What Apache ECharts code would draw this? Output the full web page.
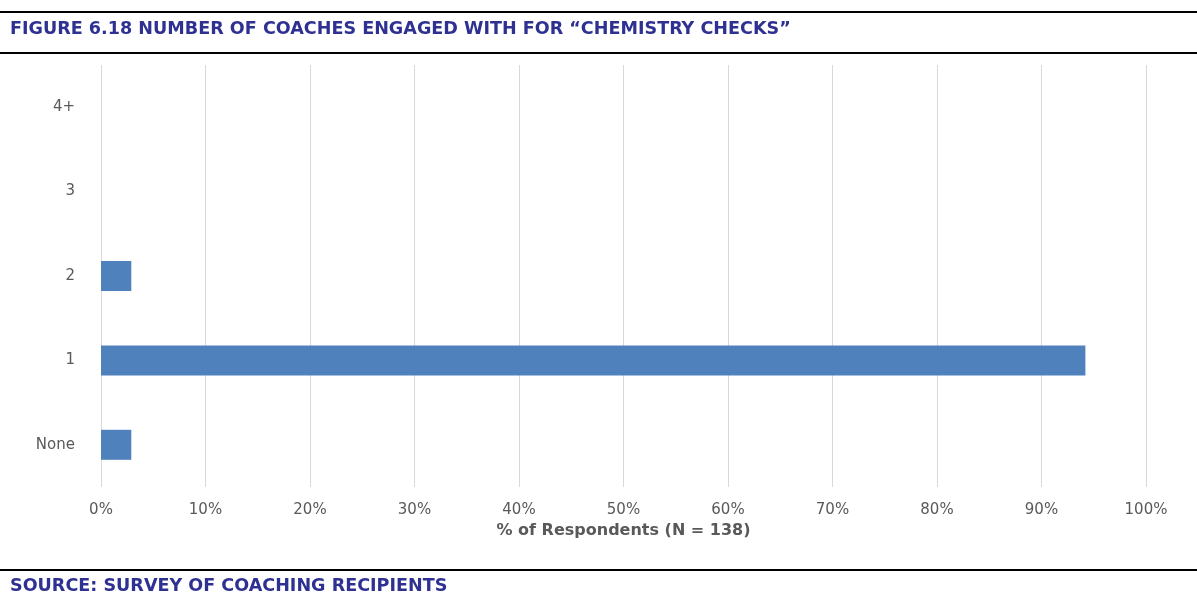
<!DOCTYPE html>
<html>
<head>
<meta charset="utf-8">
<script src="https://cdn.jsdelivr.net/npm/echarts@6/dist/echarts.min.js"></script>
<style>
  html, body { margin: 0; padding: 0; background: #fff; }
  #chart { width: 1197px; height: 594px; }
</style>
</head>
<body>
<div id="chart"></div>
<script>
// categories bottom -> top
var categories = ['None', '1', '2', '3', '4+'];
var percentValues = [2.9, 94.2, 2.9, 0, 0];
var xTicks = [0, 10, 20, 30, 40, 50, 60, 70, 80, 90, 100];

var titleText = 'FIGURE 6.18 NUMBER OF COACHES ENGAGED WITH FOR \u201CCHEMISTRY CHECKS\u201D';
var sourceText = 'SOURCE: SURVEY OF COACHING RECIPIENTS';
var axisName = '% of Respondents (N = 138)';

var navy = '#2E3192';
var condensed = '"Liberation Sans Narrow", "DejaVu Sans Condensed", "Noto Sans", sans-serif';

var myChart = echarts.init(document.getElementById('chart'));
var option = {
    animation: false,
    grid: { left: 101, right: 51, top: 65, bottom: 107 },
    xAxis: {
        type: 'value',
        min: 0,
        max: 100,
        interval: 10,
        name: axisName,
        nameLocation: 'middle',
        nameGap: 34,
        nameTextStyle: { color: '#595959', fontSize: 16, fontWeight: 'bold', fontFamily: 'DejaVu Sans' },
        axisLine: { show: false },
        axisTick: { show: false },
        axisLabel: {
            color: '#595959', fontSize: 15, fontFamily: 'DejaVu Sans', margin: 16,
            formatter: function (v) { return xTicks.indexOf(v) >= 0 ? v + '%' : ''; }
        },
        splitLine: { lineStyle: { color: '#d9d9d9', width: 1 } }
    },
    yAxis: {
        type: 'category',
        data: categories,
        axisLine: { show: false },
        axisTick: { show: false },
        axisLabel: { color: '#595959', fontSize: 15, fontFamily: 'DejaVu Sans', margin: 26 },
        splitLine: { show: false }
    },
    series: [{
        type: 'bar',
        data: percentValues,
        barWidth: 30,
        itemStyle: { color: '#4F81BD' }
    }],
    graphic: [
        { type: 'rect', shape: { x: 0, y: 11, width: 1197, height: 2 }, style: { fill: '#000' } },
        { type: 'rect', shape: { x: 0, y: 52, width: 1197, height: 2 }, style: { fill: '#000' } },
        { type: 'rect', shape: { x: 0, y: 569, width: 1197, height: 2 }, style: { fill: '#000' } },
        {
            type: 'text', x: 10, y: 29, scaleX: 1.085,
            style: { x: 0, y: 0, text: titleText, fill: navy, font: 'bold 18px ' + condensed, verticalAlign: 'middle' }
        },
        {
            type: 'text', x: 10, y: 586, scaleX: 1.085,
            style: { x: 0, y: 0, text: sourceText, fill: navy, font: 'bold 18px ' + condensed, verticalAlign: 'middle' }
        }
    ]
};
myChart.setOption(option);
</script>
</body>
</html>
